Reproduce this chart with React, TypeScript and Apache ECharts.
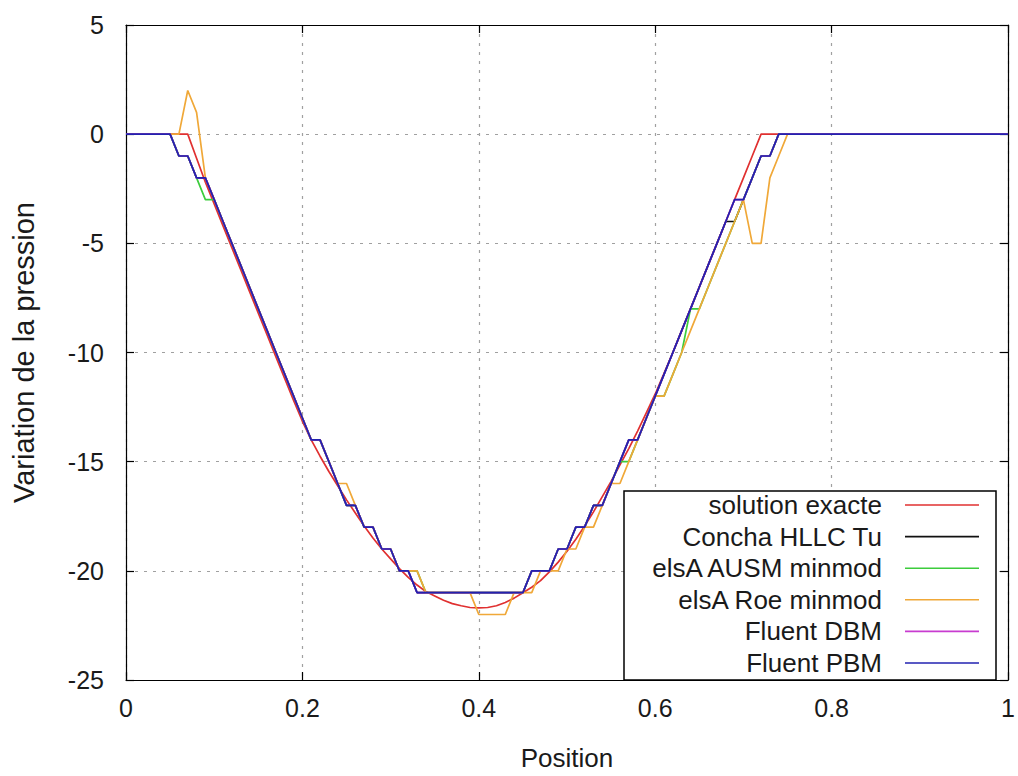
import React, { useEffect, useRef } from "react";
import * as echarts from "echarts";

const positions = [
  0, 0.04, 0.05, 0.06, 0.07, 0.08, 0.09,
  0.1, 0.11, 0.12, 0.13, 0.14, 0.15, 0.16, 0.17, 0.18, 0.19,
  0.2, 0.21, 0.22, 0.23, 0.24, 0.25, 0.26, 0.27, 0.28, 0.29,
  0.3, 0.31, 0.32, 0.33, 0.34, 0.35, 0.36, 0.37, 0.38, 0.39,
  0.4, 0.41, 0.42, 0.43, 0.44, 0.45, 0.46, 0.47, 0.48, 0.49,
  0.5, 0.51, 0.52, 0.53, 0.54, 0.55, 0.56, 0.57, 0.58, 0.59,
  0.6, 0.61, 0.62, 0.63, 0.64, 0.65, 0.66, 0.67, 0.68, 0.69,
  0.7, 0.71, 0.72, 0.73, 0.74, 0.75, 0.76,
  1,
];

const exacte = [
  0, 0, 0, 0, 0, -1.1, -2.2,
  -3.2, -4.2, -5.2, -6.2, -7.2, -8.2, -9.2, -10.2, -11.2, -12.2,
  -13.15, -14.0, -14.75, -15.45, -16.1, -16.75, -17.35, -17.95, -18.5, -19.0,
  -19.45, -19.9, -20.3, -20.65, -20.95, -21.15, -21.35, -21.5, -21.6, -21.68,
  -21.7, -21.68, -21.6, -21.45, -21.25, -21.0, -20.75, -20.45, -20.05, -19.6,
  -19.1, -18.55, -17.95, -17.3, -16.6, -15.9, -15.15, -14.4, -13.6, -12.75,
  -11.9, -10.95, -10.0, -9.0, -8.0, -7.0, -6.0, -5.0, -4.0, -3.0,
  -2.0, -1.0, 0, 0, 0, 0, 0,
  0,
];

const conchaHLLC = [
  0, 0, 0, -1, -1, -2, -2,
  -3, -4, -5, -6, -7, -8, -9, -10, -11, -12,
  -13, -14, -14, -15, -16, -17, -17, -18, -18, -19,
  -19, -20, -20, -21, -21, -21, -21, -21, -21, -21,
  -21, -21, -21, -21, -21, -21, -20, -20, -20, -19,
  -19, -18, -18, -17, -17, -16, -15, -14, -14, -13,
  -12, -11, -10, -9, -8, -7, -6, -5, -4, -4,
  -3, -2, -1, -1, 0, 0, 0,
  0,
];

const ausm = [
  0, 0, 0, -1, -1, -2, -3,
  -3, -4, -5, -6, -7, -8, -9, -10, -11, -12,
  -13, -14, -14, -15, -16, -17, -17, -18, -18, -19,
  -19, -20, -20, -20, -21, -21, -21, -21, -21, -21,
  -21, -21, -21, -21, -21, -21, -20, -20, -20, -19,
  -19, -18, -18, -17, -17, -16, -15, -15, -14, -13,
  -12, -12, -11, -10, -8, -8, -7, -6, -5, -4,
  -3, -2, -1, -1, 0, 0, 0,
  0,
];

const roe = [
  0, 0, 0, 0, 2, 1, -2,
  -3, -4, -5, -6, -7, -8, -9, -10, -11, -12,
  -13, -14, -14, -15, -16, -16, -17, -18, -18, -19,
  -19, -20, -20, -20, -21, -21, -21, -21, -21, -21,
  -22, -22, -22, -22, -21, -21, -21, -20, -20, -20,
  -19, -19, -18, -18, -17, -16, -16, -15, -14, -13,
  -12, -12, -11, -10, -9, -8, -7, -6, -5, -4,
  -3, -5, -5, -2, -1, 0, 0,
  0,
];

const fluentDBM = [
  0, 0, 0, -1, -1, -2, -2,
  -3, -4, -5, -6, -7, -8, -9, -10, -11, -12,
  -13, -14, -14, -15, -16, -17, -17, -18, -18, -19,
  -19, -20, -20, -21, -21, -21, -21, -21, -21, -21,
  -21, -21, -21, -21, -21, -21, -20, -20, -20, -19,
  -19, -18, -18, -17, -17, -16, -15, -14, -14, -13,
  -12, -11, -10, -9, -8, -7, -6, -5, -4, -3,
  -3, -2, -1, -1, 0, 0, 0,
  0,
];

const fluentPBM = [
  0, 0, 0, -1, -1, -2, -2,
  -3, -4, -5, -6, -7, -8, -9, -10, -11, -12,
  -13, -14, -14, -15, -16, -17, -17, -18, -18, -19,
  -19, -20, -20, -21, -21, -21, -21, -21, -21, -21,
  -21, -21, -21, -21, -21, -21, -20, -20, -20, -19,
  -19, -18, -18, -17, -17, -16, -15, -14, -14, -13,
  -12, -11, -10, -9, -8, -7, -6, -5, -4, -3,
  -3, -2, -1, -1, 0, 0, 0,
  0,
];

const seriesNames = [
  "solution exacte",
  "Concha HLLC Tu",
  "elsA AUSM minmod",
  "elsA Roe minmod",
  "Fluent DBM",
  "Fluent PBM",
];
const seriesValues = [exacte, conchaHLLC, ausm, roe, fluentDBM, fluentPBM];
const seriesColors = ["#e03030", "#111111", "#3ccc3c", "#f0a838", "#c83cd0", "#2222b0"];

const xTicks = { min: 0, max: 1, interval: 0.2 };
const yTicks = { min: -25, max: 5, interval: 5 };

const FONT = "Liberation Sans, Arial, sans-serif";

export default function App() {
  const ref = useRef<HTMLDivElement>(null);

  useEffect(() => {
    if (!ref.current) return;
    const chart = echarts.init(ref.current, undefined, { renderer: "svg" });

    const gridLeft = 126;
    const gridTop = 25;
    const gridRight = 8;
    const gridBottom = 90;

    const legendX = 624;
    const legendY = 491;
    const legendW = 372;
    const legendH = 189;
    const rowStart = 505;
    const rowStep = 31.6;

    const legendGraphics: any[] = [
      {
        type: "rect",
        shape: { x: legendX, y: legendY, width: legendW, height: legendH },
        style: { fill: "#fff", stroke: "#000", lineWidth: 1.5 },
        z: 100,
      },
    ];
    seriesNames.forEach((name, i) => {
      const y = rowStart + i * rowStep;
      legendGraphics.push({
        type: "text",
        x: 882,
        y,
        style: {
          text: name,
          fill: "#1a1a1a",
          font: `26px ${FONT}`,
          textAlign: "right",
          textVerticalAlign: "middle",
        },
        z: 101,
      });
      legendGraphics.push({
        type: "line",
        shape: { x1: 905, y1: y, x2: 979, y2: y },
        style: { stroke: seriesColors[i], lineWidth: 1.6 },
        z: 101,
      });
    });

    const axisLineStyle = { color: "#000", width: 1.2 };

    chart.setOption({
      animation: false,
      backgroundColor: "#fff",
      grid: { left: gridLeft, top: gridTop, right: gridRight, bottom: gridBottom },
      xAxis: [
        {
          type: "value",
          ...xTicks,
          position: "bottom",
          name: "Position",
          nameLocation: "middle",
          nameGap: 65,
          nameTextStyle: { fontSize: 26, color: "#1a1a1a", fontFamily: FONT },
          axisLine: { show: true, onZero: false, lineStyle: axisLineStyle },
          axisTick: { show: true, inside: true, length: 8, lineStyle: axisLineStyle },
          axisLabel: {
            fontSize: 25,
            color: "#1a1a1a",
            fontFamily: FONT,
            margin: 15,
            formatter: (v: number) => String(Math.round(v * 10) / 10),
          },
          splitLine: { show: true, lineStyle: { color: "#a0a0a0", type: [3, 6], width: 1.2 } },
        },
        {
          type: "value",
          ...xTicks,
          position: "top",
          axisLine: { show: true, onZero: false, lineStyle: axisLineStyle },
          axisTick: { show: true, inside: true, length: 8, lineStyle: axisLineStyle },
          axisLabel: { show: false },
          splitLine: { show: false },
        },
      ],
      yAxis: [
        {
          type: "value",
          ...yTicks,
          position: "left",
          name: "Variation de la pression",
          nameLocation: "middle",
          nameGap: 88,
          nameTextStyle: { fontSize: 29, color: "#1a1a1a", fontFamily: FONT },
          axisLine: { show: true, onZero: false, lineStyle: axisLineStyle },
          axisTick: { show: true, inside: true, length: 8, lineStyle: axisLineStyle },
          axisLabel: { fontSize: 25, color: "#1a1a1a", fontFamily: FONT, margin: 22 },
          splitLine: { show: true, lineStyle: { color: "#a0a0a0", type: [3, 6], width: 1.2 } },
        },
        {
          type: "value",
          ...yTicks,
          position: "right",
          axisLine: { show: true, onZero: false, lineStyle: axisLineStyle },
          axisTick: { show: true, inside: true, length: 8, lineStyle: axisLineStyle },
          axisLabel: { show: false },
          splitLine: { show: false },
        },
      ],
      series: seriesNames.map((name, i) => ({
        name,
        type: "line",
        xAxisIndex: 0,
        yAxisIndex: 0,
        data: positions.map((p, k) => [p, seriesValues[i][k]]),
        showSymbol: false,
        symbol: "none",
        lineStyle: { color: seriesColors[i], width: 1.7 },
        itemStyle: { color: seriesColors[i] },
        z: 2 + i,
      })),
      graphic: legendGraphics,
    });

    return () => {
      chart.dispose();
    };
  }, []);

  return (
    <div
      ref={ref}
      style={{ position: "fixed", left: 0, top: 0, width: 1018, height: 776, background: "#fff" }}
    />
  );
}
